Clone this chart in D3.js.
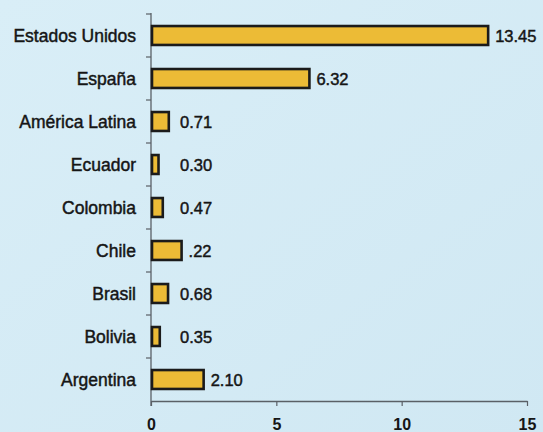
<!DOCTYPE html>
<html><head><meta charset="utf-8">
<script src="https://cdn.jsdelivr.net/npm/d3@7/dist/d3.min.js"></script>
<style>html,body{margin:0;padding:0;background:#d5ebf5;}svg{display:block;}</style>
</head><body>
<script>
const categories = ["Estados Unidos","España","América Latina","Ecuador","Colombia","Chile","Brasil","Bolivia","Argentina"];
const values = [13.45, 6.32, 0.71, 0.30, 0.47, 1.22, 0.68, 0.35, 2.10];
const valueLabels = ["13.45","6.32","0.71","0.30","0.47",".22","0.68","0.35","2.10"];
const xTicks = [0, 5, 10, 15];

const W = 543, H = 432;
const svg = d3.select("body").append("svg").attr("width", W).attr("height", H);
const FONT = "Liberation Sans, Arial, sans-serif";

const defs = svg.append("defs");
const grad = defs.append("linearGradient").attr("id","bg").attr("x1",0).attr("y1",0).attr("x2",1).attr("y2",1);
grad.append("stop").attr("offset","0%").attr("stop-color","#d9eef7");
grad.append("stop").attr("offset","100%").attr("stop-color","#d0e8f3");
svg.append("rect").attr("width",W).attr("height",H).attr("fill","url(#bg)");

const x = d3.scaleLinear().domain([0, 15]).range([151, 527]);
const y = d3.scaleBand().domain(categories).range([14, 401]).paddingInner(0.56).paddingOuter(0.28);

const axisColor = "#5a6066";
// left axis line with ticks at band boundaries
svg.append("line").attr("x1", x(0)).attr("x2", x(0)).attr("y1", 13).attr("y2", 406)
  .attr("stroke", axisColor).attr("stroke-width", 1.3);
d3.range(categories.length).forEach(i => {
  const yy = y.range()[0] + i * y.step();
  svg.append("line").attr("x1", x(0) - 5).attr("x2", x(0)).attr("y1", yy).attr("y2", yy)
    .attr("stroke", axisColor).attr("stroke-width", 1.2);
});

// bottom axis
const gx = svg.append("g").attr("transform", `translate(0,401)`)
  .call(d3.axisBottom(x).tickValues(xTicks).tickSize(5).tickSizeOuter(0).tickFormat(d3.format("d")));
gx.select(".domain").attr("stroke", axisColor).attr("stroke-width", 1.3);
gx.selectAll(".tick line").attr("stroke", axisColor).attr("stroke-width", 1.2);
gx.selectAll(".tick text").attr("y", 29).attr("dy", 0)
  .attr("font-family", FONT).attr("font-size", 16)
  .attr("font-weight", "bold").attr("fill", "#151515");

// bars
svg.selectAll("rect.bar").data(categories).enter().append("rect").attr("class","bar")
  .attr("x", x(0) + 1)
  .attr("y", d => y(d))
  .attr("width", (d, i) => Math.max(x(values[i]) - x(0) - 1, 4))
  .attr("height", y.bandwidth())
  .attr("fill", "#ecbb36")
  .attr("stroke", "#1b1b1b").attr("stroke-width", 2.6);

// category labels
svg.selectAll("text.cat").data(categories).enter().append("text").attr("class","cat")
  .attr("x", x(0) - 15)
  .attr("y", d => y(d) + y.bandwidth() / 2 + 6)
  .attr("text-anchor", "end")
  .attr("font-family", FONT).attr("font-size", 17.5)
  .attr("fill", "#151515").attr("stroke", "#151515").attr("stroke-width", 0.45)
  .text(d => d);

// value labels
svg.selectAll("text.val").data(categories).enter().append("text").attr("class","val")
  .attr("x", (d, i) => Math.max(x(values[i]) + 7, x(0) + 29))
  .attr("y", d => y(d) + y.bandwidth() / 2 + 6)
  .attr("font-family", FONT).attr("font-size", 16.5)
  .attr("fill", "#151515").attr("stroke", "#151515").attr("stroke-width", 0.45)
  .text((d, i) => valueLabels[i]);
</script>
</body></html>
